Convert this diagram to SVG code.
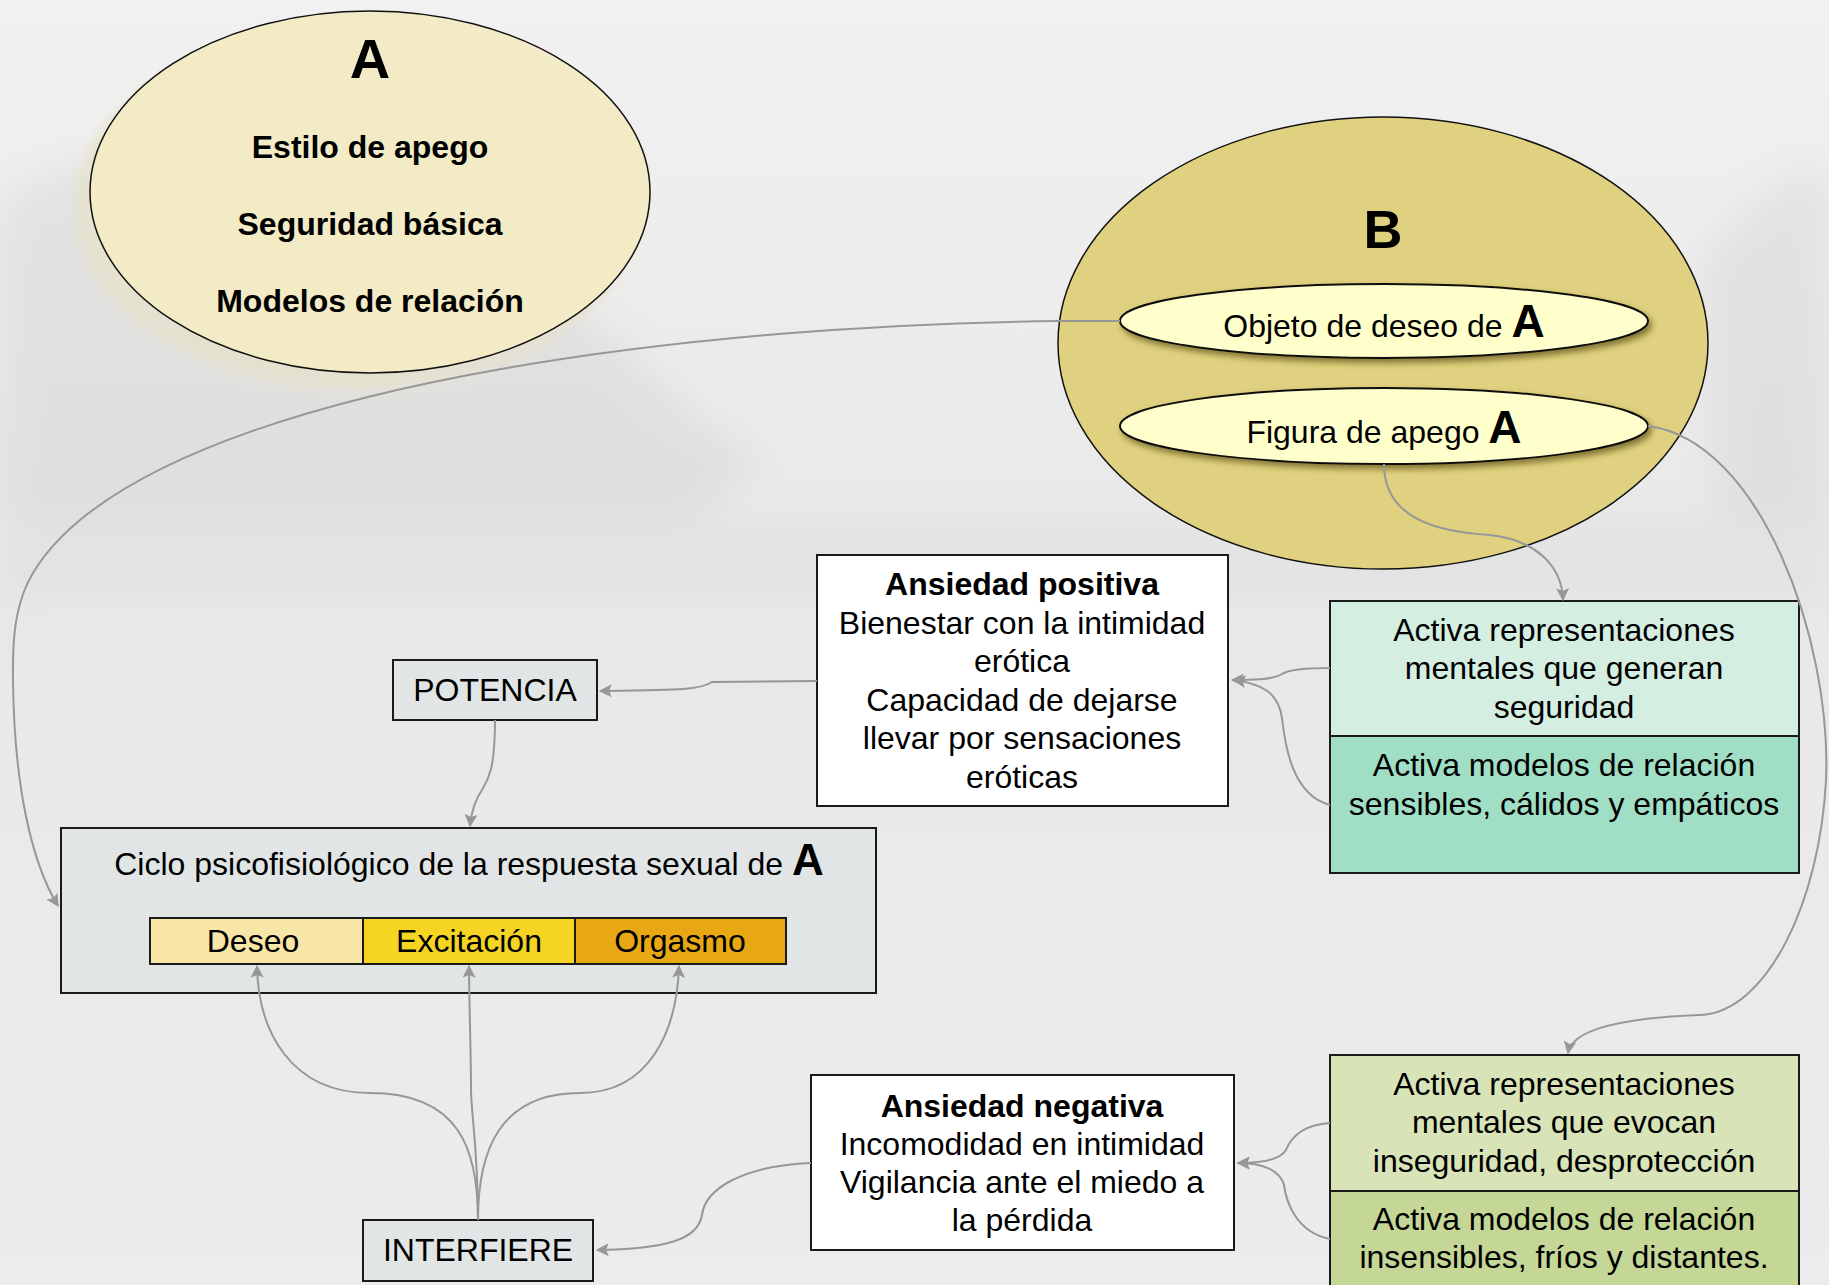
<svg xmlns="http://www.w3.org/2000/svg" width="1829" height="1285" viewBox="0 0 1829 1285">
<style>
.t{font-family:"Liberation Sans",Arial,sans-serif;fill:#000;text-anchor:middle}
.b{font-weight:bold}
.f31{font-size:32px}
.f32{font-size:32px}
.box{stroke:#1a1a1a;stroke-width:2}
.con{fill:none;stroke:#979797;stroke-width:2}
</style>
<defs>
<marker id="ar" viewBox="0 0 10 10" refX="9" refY="5" markerWidth="16" markerHeight="13" markerUnits="userSpaceOnUse" orient="auto">
<path d="M0,0 L10,5 L0,10 L2,5 z" fill="#979797"/>
</marker>
<filter id="blur" x="-20%" y="-20%" width="140%" height="140%"><feGaussianBlur stdDeviation="18"/></filter>
<filter id="halo" x="-20%" y="-20%" width="140%" height="140%"><feGaussianBlur stdDeviation="6"/></filter>
<filter id="sh" x="-10%" y="-30%" width="120%" height="170%"><feDropShadow dx="3" dy="4" stdDeviation="3" flood-color="#5a4e10" flood-opacity="0.7"/></filter>
<linearGradient id="bg" x1="0" y1="0" x2="0" y2="1">
<stop offset="0" stop-color="#f1f1f1"/>
<stop offset="0.45" stop-color="#e8e8e8"/>
<stop offset="1" stop-color="#ececec"/>
</linearGradient>
</defs>
<rect width="1829" height="1285" fill="url(#bg)"/>
<g opacity="0.3" filter="url(#blur)">
<path d="M0,200 L60,170 L140,150 L240,210 L420,260 L560,300 L620,340 L700,420 L760,460 L700,520 L400,560 L0,560 z" fill="#c9c9c9"/>
<path d="M1700,260 L1780,180 L1829,170 L1829,520 L1720,520 z" fill="#c9c9c9"/>
<path d="M0,520 L1829,520 L1829,600 L0,600 z" fill="#d8d8d8"/>
</g>

<g id="nodeA">
<ellipse cx="356" cy="208" rx="282" ry="183" fill="#e6e2cc" opacity="0.8" filter="url(#halo)"/>
<ellipse cx="370" cy="192" rx="280" ry="181" fill="#f2ebc6" stroke="#111" stroke-width="1.5"/>
<text class="t b" x="370" y="78" font-size="56">A</text>
<text class="t b f32" x="370" y="158">Estilo de apego</text>
<text class="t b f32" x="370" y="235">Seguridad básica</text>
<text class="t b f32" x="370" y="312">Modelos de relación</text>
</g>

<g id="nodeB">
<ellipse cx="1383" cy="343" rx="325" ry="226" fill="#dfd17f" stroke="#111" stroke-width="1.5"/>
<text class="t b" x="1383" y="248" font-size="54">B</text>
</g>

<g id="objeto">
<ellipse cx="1384" cy="321" rx="264" ry="37" fill="#ffffcc" stroke="#111" stroke-width="2" filter="url(#sh)"/>
<text class="t f31" x="1384" y="337">Objeto de deseo de <tspan class="b" font-size="46">A</tspan></text>
</g>

<g id="figura">
<ellipse cx="1384" cy="426" rx="264" ry="38" fill="#ffffcc" stroke="#111" stroke-width="2" filter="url(#sh)"/>
<text class="t f31" x="1384" y="443">Figura de apego <tspan class="b" font-size="46">A</tspan></text>
</g>

<g id="ansiedadPositiva">
<rect class="box" x="817" y="555" width="411" height="251" fill="#fff"/>
<text class="t f31 b" x="1022" y="595">Ansiedad positiva</text>
<text class="t f31" x="1022" y="634">Bienestar con la intimidad</text>
<text class="t f31" x="1022" y="672">erótica</text>
<text class="t f31" x="1022" y="711">Capacidad de dejarse</text>
<text class="t f31" x="1022" y="749">llevar por sensaciones</text>
<text class="t f31" x="1022" y="788">eróticas</text>
</g>

<g id="seguridad">
<rect class="box" x="1330" y="601" width="469" height="135" fill="#d5eee2"/>
<rect class="box" x="1330" y="736" width="469" height="137" fill="#a0dec6"/>
<text class="t f31" x="1564" y="641">Activa representaciones</text>
<text class="t f31" x="1564" y="679">mentales que generan</text>
<text class="t f31" x="1564" y="718">seguridad</text>
<text class="t f31" x="1564" y="776">Activa modelos de relación</text>
<text class="t f31" x="1564" y="815">sensibles, cálidos y empáticos</text>
</g>

<g id="potencia">
<rect class="box" x="393" y="660" width="204" height="60" fill="#e2e5e6"/>
<text class="t f31" x="495" y="701">POTENCIA</text>
</g>

<g id="ciclo">
<rect class="box" x="61" y="828" width="815" height="165" fill="#e2e5e6"/>
<text class="t f31" x="469" y="875">Ciclo psicofisiológico de la respuesta sexual de <tspan class="b" font-size="44">A</tspan></text>
<rect class="box" x="150" y="918" width="213" height="46" fill="#f8e6a6"/>
<rect class="box" x="363" y="918" width="212" height="46" fill="#f5d423"/>
<rect class="box" x="575" y="918" width="211" height="46" fill="#e8a813"/>
<text class="t f31" x="253" y="952">Deseo</text>
<text class="t f31" x="469" y="952">Excitación</text>
<text class="t f31" x="680" y="952">Orgasmo</text>
</g>

<g id="ansiedadNegativa">
<rect class="box" x="811" y="1075" width="423" height="175" fill="#fff"/>
<text class="t f31 b" x="1022" y="1117">Ansiedad negativa</text>
<text class="t f31" x="1022" y="1155">Incomodidad en intimidad</text>
<text class="t f31" x="1022" y="1193">Vigilancia ante el miedo a</text>
<text class="t f31" x="1022" y="1231">la pérdida</text>
</g>

<g id="inseguridad">
<rect class="box" x="1330" y="1055" width="469" height="136" fill="#d8e4b8"/>
<rect class="box" x="1330" y="1191" width="469" height="110" fill="#c5d796"/>
<text class="t f31" x="1564" y="1095">Activa representaciones</text>
<text class="t f31" x="1564" y="1133">mentales que evocan</text>
<text class="t f31" x="1564" y="1172">inseguridad, desprotección</text>
<text class="t f31" x="1564" y="1230">Activa modelos de relación</text>
<text class="t f31" x="1564" y="1268">insensibles, fríos y distantes.</text>
</g>

<g id="interfiere">
<rect class="box" x="363" y="1220" width="230" height="61" fill="#e2e5e6"/>
<text class="t f31" x="478" y="1261">INTERFIERE</text>
</g>

<g id="connectors">
<path class="con" d="M1120,321 L1058,321 C700,325 250,380 80,520 C20,570 12,610 13,680 C14,780 30,860 58,906" marker-end="url(#ar)"/>
<path class="con" d="M1384,464 C1384,520 1440,532 1490,535 C1535,540 1562,565 1563,600" marker-end="url(#ar)"/>
<path class="con" d="M1648,426 C1760,440 1832,640 1826,780 C1820,900 1768,1012 1700,1015 C1620,1018 1572,1030 1568,1053" marker-end="url(#ar)"/>
<path class="con" d="M1330,668 C1300,668 1288,670 1282,674 C1272,680 1252,680 1232,680" marker-end="url(#ar)"/>
<path class="con" d="M1330,805 C1292,795 1285,745 1282,718 C1278,692 1262,684 1234,680" marker-end="url(#ar)"/>
<path class="con" d="M817,681 L712,682 C700,690 680,690 600,691" marker-end="url(#ar)"/>
<path class="con" d="M495,720 C495,770 488,780 482,790 C475,800 471,815 470,826" marker-end="url(#ar)"/>
<path class="con" d="M811,1163 C740,1166 705,1190 702,1215 C698,1240 665,1249 597,1250" marker-end="url(#ar)"/>
<path class="con" d="M1330,1123 C1300,1125 1290,1140 1286,1150 C1280,1160 1262,1163 1238,1163" marker-end="url(#ar)"/>
<path class="con" d="M1330,1239 C1295,1232 1286,1200 1284,1185 C1280,1170 1262,1163 1238,1163" marker-end="url(#ar)"/>
<path class="con" d="M478,1220 C478,1150 460,1093 370,1093 C290,1093 258,1030 257,966" marker-end="url(#ar)"/>
<path class="con" d="M478,1220 C478,1150 471,1110 471,1090 C471,1050 469,1000 469,966" marker-end="url(#ar)"/>
<path class="con" d="M478,1220 C478,1150 500,1093 580,1093 C650,1093 677,1030 679,966" marker-end="url(#ar)"/>
</g>
</svg>
